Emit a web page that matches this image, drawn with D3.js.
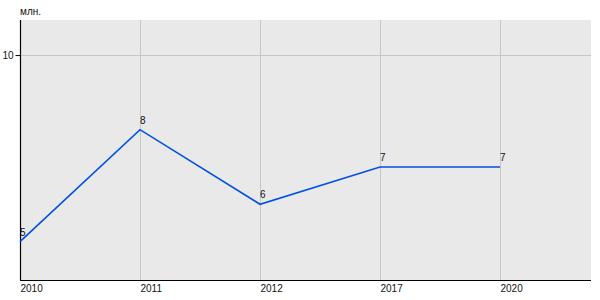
<!DOCTYPE html>
<meta charset="utf-8">
<style>

body {
  margin: 0;
  background: #fff;
}

text {
  font-family: "Liberation Sans", Arial, sans-serif;
  font-size: 10px;
  fill: #111;
}

</style>
<svg></svg>
<script src="https://d3js.org/d3.v7.min.js"></script>
<script>

var width = 600,
    height = 300;

var margin = {top: 20, right: 9, bottom: 20, left: 20};

var years = ["2010", "2011", "2012", "2017", "2020"];
var values = [5, 8, 6, 7, 7];
var yTicks = [10];
var unitLabel = "млн.";

var svg = d3.select("svg")
    .attr("width", width)
    .attr("height", height);

var x = d3.scalePoint()
    .domain(years)
    .range([margin.left, margin.left + 120 * (years.length - 1)]);

var y = d3.scaleLinear()
    .domain([3.97, 10.94])
    .range([height - margin.bottom, margin.top]);

var plotRight = width - margin.right;

// background
svg.append("rect")
    .attr("x", margin.left)
    .attr("y", margin.top)
    .attr("width", plotRight - margin.left)
    .attr("height", height - margin.bottom - margin.top)
    .attr("fill", "#e9e9e9");

// grid
var grid = svg.append("g").attr("stroke", "#c6c6c6").attr("stroke-width", 1);

grid.selectAll(".vgrid")
    .data(years.slice(1))
    .enter().append("line")
    .attr("x1", function(d) { return Math.round(x(d)) + 0.5; })
    .attr("x2", function(d) { return Math.round(x(d)) + 0.5; })
    .attr("y1", margin.top)
    .attr("y2", height - margin.bottom);

grid.selectAll(".hgrid")
    .data(yTicks)
    .enter().append("line")
    .attr("x1", margin.left)
    .attr("x2", plotRight)
    .attr("y1", function(d) { return Math.round(y(d)) + 0.5; })
    .attr("y2", function(d) { return Math.round(y(d)) + 0.5; });

// y axis
var yAxis = svg.append("g")
    .attr("transform", "translate(" + (margin.left + 0.5) + ",0)")
    .call(d3.axisLeft(y).tickValues(yTicks).tickSize(5).tickPadding(2).tickFormat(d3.format("d")));
yAxis.select(".domain").attr("d", "M0," + margin.top + "V" + (height - margin.bottom)).attr("stroke", "#000");
yAxis.selectAll(".tick line").attr("stroke", "#000");

// x axis
var xAxis = svg.append("g")
    .attr("transform", "translate(0," + (height - margin.bottom + 0.5) + ")")
    .call(d3.axisBottom(x).tickSize(0).tickPadding(3));
xAxis.select(".domain").attr("d", "M" + margin.left + ",0H" + plotRight).attr("stroke", "#000");
xAxis.selectAll("text")
    .attr("text-anchor", "start")
    .attr("dy", "0.71em")
    .attr("y", 4);

svg.selectAll(".domain").attr("stroke-width", 1.2);
svg.selectAll(".tick text").attr("font-family", null).attr("font-size", null);

svg.append("text")
    .attr("x", margin.left)
    .attr("y", 15)
    .text(unitLabel);

// line
var data = years.map(function(d, i) { return {year: d, value: values[i]}; });

var line = d3.line()
    .x(function(d) { return x(d.year); })
    .y(function(d) { return y(d.value); });

svg.append("path")
    .datum(data)
    .attr("fill", "none")
    .attr("stroke", "#0050e8")
    .attr("stroke-width", 1.6)
    .attr("d", line);

svg.selectAll(".vlabel")
    .data(data)
    .enter().append("text")
    .attr("class", "vlabel")
    .attr("x", function(d) { return x(d.year); })
    .attr("y", function(d) { return y(d.value) - 6; })
    .attr("fill", "#222")
    .text(function(d) { return d3.format("d")(d.value); });

</script>
